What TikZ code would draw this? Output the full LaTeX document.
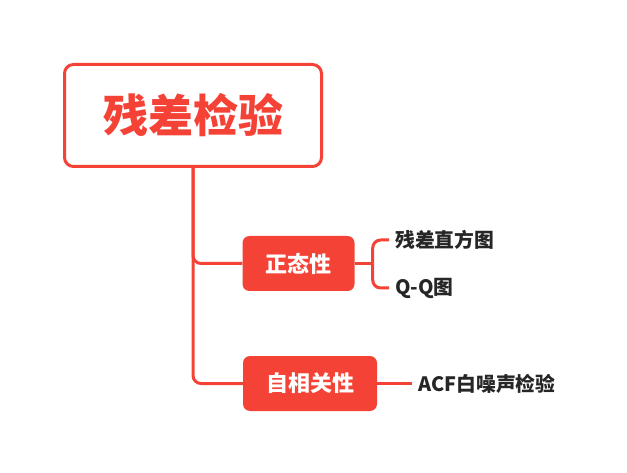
\documentclass[tikz,border=0pt]{standalone}
\usepackage{fontspec}
\setmainfont{Noto Sans CJK SC}
\usepackage{xcolor}
\usepackage{tikz}
\usetikzlibrary{positioning}
\definecolor{mapred}{RGB}{244,67,54}

\begin{document}
\begin{tikzpicture}[
    x=1pt, y=1pt,
    root_node/.style={
        rectangle,
        draw=mapred,
        fill=white,
        line width=3pt,
        rounded corners=9pt,
        minimum width=257pt,
        minimum height=102pt,
        text=mapred,
        font=\fontsize{45}{50}\selectfont\bfseries
    },
    topic_node/.style={
        rectangle,
        fill=mapred,
        rounded corners=7pt,
        minimum height=55pt,
        inner xsep=23pt,
        text=white,
        font=\fontsize{22}{26}\selectfont\bfseries
    },
    leaf_node/.style={
        anchor=west,
        inner xsep=6pt,
        inner ysep=0pt,
        text=black!85,
        font=\fontsize{19.8}{22}\selectfont\bfseries
    },
    link_line/.style={
        draw=mapred,
        line width=3pt,
        rounded corners=8pt
    }
]
    \useasboundingbox (0,0) rectangle (627,472);

    % Mind map nodes
    \node (root) [root_node] at (193,356.5) {残差检验};

    \node (normal) [topic_node] at (298.5,208.5) {正态性};
    \node (autocorr) [topic_node] at (310,88.5) {自相关性};

    \node (hist) [leaf_node] at (389,232) {残差直方图};
    \node (qq) [leaf_node] at (389,184) {Q-Q图};
    \node (acf) [leaf_node, right=35pt of autocorr.east, anchor=west] {ACF白噪声检验};

    % Branch connections
    \draw [link_line] (root.south) |- (normal.west);
    \draw [link_line] (root.south) |- (autocorr.west);

    \draw [link_line] (normal.east) -- ++(18,0) coordinate (fork);
    \draw [link_line] (fork) |- (hist.west);
    \draw [link_line] (fork) |- (qq.west);

    \draw [link_line] (autocorr.east) -- (acf.west);

\end{tikzpicture}
\end{document}
